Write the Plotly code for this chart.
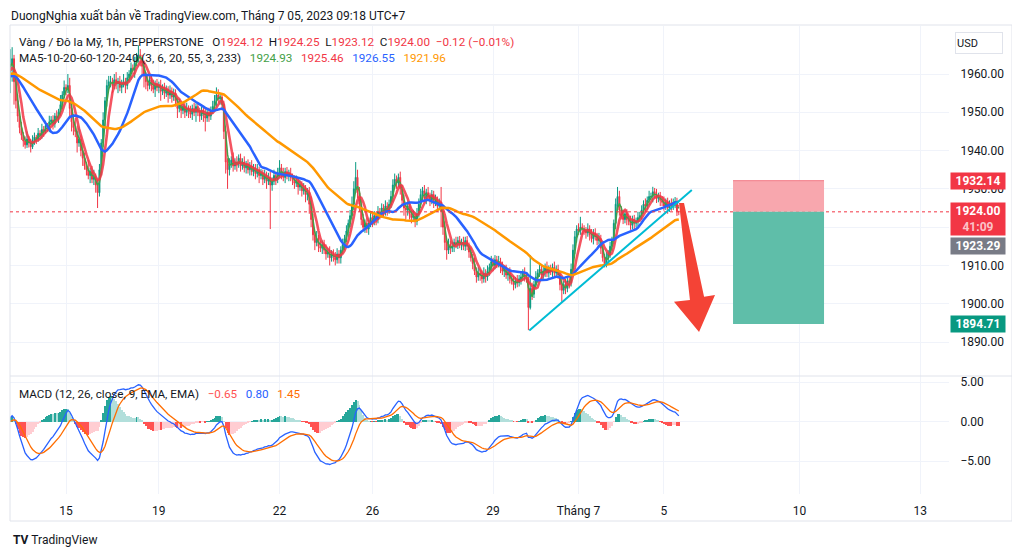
import plotly.graph_objects as go
import pandas as pd

# ---------------- data (1h bars, index 0 = 15 Jun 00:00 UTC+7) ----------------
warmup_closes = [1958.5, 1959.0, 1958.0, 1959.5, 1960.0, 1959.0, 1960.5, 1961.0, 1960.0, 1961.5,
                 1962.0, 1961.0, 1960.5, 1961.5, 1962.5, 1961.5, 1960.0, 1959.5, 1960.5, 1961.0,
                 1962.0, 1961.0, 1960.0, 1959.0, 1958.5, 1959.5, 1960.5, 1961.5, 1962.5, 1963.0,
                 1962.0, 1961.0, 1960.5, 1961.5, 1960.0, 1959.0, 1958.0, 1958.5, 1959.5, 1960.0,
                 1959.0, 1958.5, 1959.0, 1958.0, 1958.5, 1959.5, 1958.5, 1959.0, 1958.0, 1957.5,
                 1958.5, 1959.0, 1958.0, 1958.5, 1959.5, 1960.0, 1959.5, 1960.5, 1961.0, 1962.0]
FIRST_IDX = -30

c01 = [1962.5, 1964.0, 1958.0, 1953.0, 1949.0, 1946.0, 1944.0, 1942.5, 1941.5, 1943.0, 1942.0, 1941.0,
       1942.5, 1943.5, 1943.0, 1944.5, 1944.0, 1945.5, 1945.0, 1946.5, 1946.0, 1947.5, 1948.0, 1947.0,
       1949.0, 1948.5, 1950.0, 1952.0, 1954.5, 1956.5, 1956.0, 1957.0, 1951.0, 1947.5]
u01 = [4.0, 3.0, 1.0, 2.5, 1.5, 1.0, 1.5, 0.8, 1.2, 2.0, 0.8, 1.0, 1.5, 1.2, 0.6, 1.4, 0.8, 1.5, 0.9, 1.3,
       0.7, 1.6, 1.0, 1.2, 0.8, 1.5, 0.9, 2.5, 1.0, 1.8, 0.8, 3.0, 2.0, 1.0]
d01 = [7.0, 4.5, 6.0, 2.0, 1.5, 1.5, 1.2, 1.5, 1.0, 0.8, 1.2, 1.5, 0.6, 1.0, 1.3, 0.7, 1.2, 0.9, 1.4, 0.6,
       1.0, 1.2, 0.8, 1.5, 1.0, 0.7, 1.3, 0.9, 1.2, 0.8, 1.5, 1.0, 2.0, 2.5]
c02 = [1946.0, 1945.0, 1942.0, 1943.0, 1940.0, 1938.0, 1936.0, 1935.0, 1933.5, 1934.5, 1932.5, 1933.0, 1931.0, 1929.0,
       1935.0, 1942.0, 1948.0, 1953.0, 1957.0, 1958.0]
u02 = [2.0, 2.5, 1.5, 3.0, 1.0, 2.0, 1.5, 1.0, 2.5, 1.0, 1.5, 2.0, 1.0, 1.5, 1.5, 1.0, 2.0, 1.0, 1.5, 1.5]
d02 = [2.0, 1.5, 2.5, 1.0, 1.5, 2.0, 1.0, 1.5, 1.0, 2.0, 1.0, 1.5, 2.0, 4.0, 1.0, 1.5, 1.0, 2.0, 1.5, 1.0]
c03 = [1958.0, 1957.0, 1958.5, 1957.5, 1958.0, 1956.5, 1957.5, 1958.0, 1957.0, 1959.0,
       1960.0, 1961.5, 1961.0, 1963.0, 1964.5, 1965.0, 1964.0, 1962.0, 1959.5, 1958.0, 1957.0, 1958.5]
u03 = [1.5, 1.0, 1.5, 2.0, 1.0, 1.5, 1.0, 2.0, 1.0, 1.5, 1.0, 1.5, 1.0, 1.5, 1.0, 2.5, 1.5, 1.0, 1.5, 1.0, 1.5, 1.0]
d03 = [1.5, 2.0, 1.0, 1.5, 2.5, 1.0, 1.5, 1.0, 2.0, 1.0, 1.0, 1.5, 1.0, 2.0, 1.0, 1.5, 2.0, 2.5, 3.0, 2.0, 1.5, 1.0]
c04 = [1957.0, 1956.0, 1957.5, 1956.5, 1957.0, 1955.5, 1956.5, 1955.0, 1956.0, 1954.5, 1955.5, 1954.0, 1955.0,
       1953.0, 1951.0, 1952.0, 1950.5, 1951.5]
u04 = [1.0, 1.5, 0.8, 1.2, 1.0, 1.5, 0.8, 1.2, 1.0, 0.8, 1.5, 1.0, 1.2, 1.0, 0.8, 1.5, 1.0, 1.2]
d04 = [1.5, 1.0, 2.0, 1.0, 1.5, 2.5, 1.0, 1.5, 1.0, 2.0, 1.0, 1.5, 1.0, 1.5, 2.5, 1.0, 2.0, 1.0]
c05 = [1950.0, 1951.0, 1950.5, 1949.5, 1951.0, 1950.0, 1951.5, 1950.0, 1949.0, 1950.5, 1949.5, 1948.5, 1950.0,
       1949.0, 1950.5, 1951.5, 1953.0, 1954.5, 1953.5, 1954.0, 1952.0, 1945.0]
u05 = [1.0, 1.5, 0.8, 1.2, 1.0, 1.5, 0.8, 1.0, 1.2, 1.0, 0.8, 1.5, 1.0, 1.2, 1.0, 1.5, 1.5, 2.0, 1.5, 1.0, 1.0, 1.0]
d05 = [1.5, 1.0, 2.0, 1.0, 1.5, 1.0, 2.5, 1.0, 1.5, 1.0, 2.0, 3.5, 1.0, 1.5, 1.0, 1.0, 1.0, 1.5, 1.0, 1.5, 1.5, 2.0]
c06 = [1937.0, 1935.0, 1936.5, 1937.5, 1936.0, 1937.0, 1936.5, 1938.0, 1936.0, 1937.0, 1935.5, 1936.5, 1935.0,
       1936.0, 1934.5, 1935.5, 1934.0, 1935.0, 1933.5, 1934.0, 1932.5, 1933.5, 1932.0, 1933.0, 1931.0]
u06 = [1.5, 1.0, 1.5, 1.0, 2.0, 1.0, 1.5, 1.0, 1.2, 1.0, 1.5, 0.8, 1.2, 1.0, 1.5, 1.0,
       1.0, 1.5, 0.8, 1.2, 1.0, 1.5, 1.0, 1.2, 1.5]
d06 = [3.0, 5.0, 1.5, 1.0, 1.5, 1.0, 2.0, 1.0, 1.5, 1.0, 1.2, 1.5, 1.0, 1.5, 1.0, 1.2,
       1.5, 1.0, 2.0, 1.0, 1.5, 1.0, 2.0, 1.0, 11.5]
c07 = [1932.0, 1933.5, 1932.5, 1934.0, 1935.5, 1934.0, 1933.0, 1934.5, 1933.5, 1934.0, 1933.0, 1932.5,
       1931.5, 1932.0, 1930.5, 1931.0, 1929.5, 1930.0, 1928.5, 1929.0]
u07 = [1.0, 1.5, 1.0, 1.5, 2.0, 1.0, 1.5, 1.0, 1.2, 1.0, 1.5, 1.0, 1.0, 1.5, 1.0, 1.2, 1.0, 1.5, 1.0, 1.2]
d07 = [1.5, 1.0, 1.5, 1.0, 1.0, 1.5, 1.0, 1.5, 1.0, 1.5, 1.0, 1.5, 1.5, 1.0, 2.0, 1.0, 1.5, 1.0, 2.0, 1.5]
c08 = [1926.0, 1922.0, 1918.0, 1916.0, 1917.0, 1915.0, 1914.5, 1915.5, 1914.0, 1913.0, 1913.5, 1912.0, 1913.0,
       1912.5, 1911.5, 1913.0, 1912.0,
       1914.0, 1915.5, 1917.0, 1919.0, 1921.0, 1923.0, 1926.0, 1930.0, 1933.0, 1929.0, 1926.0, 1922.0, 1920.0,
       1921.0, 1919.5]
u08 = [1.5, 2.0, 1.5, 1.0, 2.0, 1.0, 1.5, 1.0, 1.2, 1.5, 1.0, 1.5, 1.0, 1.2, 1.0, 1.5, 1.0,
       1.0, 1.5, 1.0, 1.5, 1.0, 1.5, 2.0, 2.0, 4.0, 2.0, 1.5, 1.0, 1.5, 1.0, 1.5]
d08 = [2.5, 2.0, 1.5, 2.0, 1.0, 1.5, 1.0, 1.5, 1.0, 1.5, 1.0, 2.0, 1.0, 1.5, 1.5, 1.0, 1.5,
       1.5, 1.0, 1.5, 1.0, 1.5, 1.0, 1.0, 1.5, 1.0, 1.5, 2.0, 1.5, 1.0, 1.5, 1.0]
c09 = [1921.0, 1922.5, 1921.5, 1923.0, 1922.0, 1924.0, 1923.5, 1925.0, 1924.0, 1925.5, 1924.5, 1926.0,
       1928.0, 1931.0, 1932.5, 1931.5, 1933.0, 1930.0, 1927.0, 1925.0, 1924.5, 1925.5, 1923.5]
u09 = [1.0, 1.5, 1.0, 1.2, 1.0, 1.5, 1.0, 1.2, 1.0, 1.5, 1.0, 1.2,
       1.5, 1.5, 1.5, 1.0, 1.0, 1.5, 1.0, 1.5, 1.0, 1.2, 1.0]
d09 = [1.5, 1.0, 1.5, 1.0, 1.5, 1.0, 1.5, 1.0, 1.2, 1.0, 1.5, 1.0,
       1.0, 1.5, 1.0, 1.5, 1.0, 1.5, 1.0, 2.0, 2.5, 1.5, 1.5]
c10 = [1922.5, 1923.0, 1921.5, 1923.5, 1926.0, 1928.5, 1929.5, 1927.5, 1929.0, 1928.0, 1927.0, 1928.5, 1926.5,
       1927.0, 1925.5, 1926.5, 1924.0,
       1920.0, 1916.0, 1914.0, 1915.5, 1914.5, 1915.0, 1916.0, 1915.5, 1916.5, 1915.5, 1916.0, 1915.0, 1916.5, 1915.0]
u10 = [1.0, 1.5, 1.0, 1.5, 1.5, 1.5, 1.0, 1.5, 1.0, 1.5, 1.0, 1.2, 1.0, 1.5, 1.0, 1.0, 4.0,
       1.5, 1.5, 1.0, 1.5, 1.0, 1.2, 1.0, 1.5, 1.0, 1.2, 1.0, 1.5, 1.0, 1.2]
d10 = [1.5, 1.0, 1.5, 1.0, 1.0, 1.0, 1.5, 1.0, 1.5, 1.0, 1.5, 1.0, 1.5, 1.0, 1.5, 1.0, 4.0,
       2.0, 2.0, 2.5, 1.0, 1.5, 1.0, 1.5, 1.0, 1.2, 1.0, 1.5, 1.0, 1.2, 1.0]
c11 = [1913.5, 1912.0, 1910.5, 1908.5, 1907.0, 1908.0, 1907.5, 1906.5, 1908.0, 1907.0, 1908.5, 1909.5, 1911.0,
       1910.0, 1911.5, 1910.5, 1911.0,
       1909.5, 1908.5, 1909.0, 1907.5, 1908.0, 1906.5, 1906.0, 1905.0, 1906.0, 1905.5, 1906.5, 1907.0, 1908.0,
       1907.0, 1906.5]
u11 = [1.0, 1.2, 1.0, 1.5, 1.0, 1.5, 1.0, 1.2, 1.5, 1.0, 1.5, 1.0, 1.5, 1.0, 1.2, 1.0, 1.5,
       1.0, 1.5, 1.0, 1.2, 1.0, 1.5, 1.0, 1.2, 1.0, 1.5, 1.0, 1.2, 1.0, 1.5, 1.0]
d11 = [1.5, 1.0, 1.5, 1.0, 1.5, 1.0, 1.5, 1.2, 1.0, 1.5, 1.0, 1.2, 1.0, 1.5, 1.0, 1.2, 1.0,
       1.5, 1.0, 1.5, 1.0, 1.5, 1.2, 1.0, 1.5, 1.0, 1.2, 1.0, 1.5, 1.0, 1.2, 1.0]
c12 = [1899.0, 1904.0, 1902.5, 1905.0, 1907.0,
       1908.0, 1909.0, 1907.5, 1908.5, 1909.5, 1908.0, 1909.0, 1908.5, 1909.5, 1908.0, 1909.0, 1907.5,
       1905.0, 1903.5, 1905.0, 1904.0, 1906.0, 1905.5, 1909.0, 1914.0, 1917.5, 1919.5, 1919.0, 1920.0,
       1919.5, 1919.0]
u12 = [0.5, 8.7, 1.5, 1.0, 1.5,
       1.0, 1.5, 1.0, 1.2, 1.0, 1.5, 1.0, 1.2, 1.0, 1.5, 1.0, 1.2,
       1.0, 1.5, 1.0, 1.5, 1.0, 1.5, 1.5, 1.5, 1.5, 1.0, 1.5, 2.7, 1.0, 1.0]
d12 = [5.9, 0.5, 1.5, 1.0, 1.0,
       1.5, 1.0, 1.5, 1.0, 1.5, 1.0, 1.2, 1.0, 1.5, 1.0, 1.2, 1.0,
       1.5, 3.0, 1.0, 1.5, 1.0, 1.5, 1.0, 1.5, 1.0, 1.5, 1.0, 1.0, 1.5, 1.0]
c13 = [1918.5, 1919.5, 1918.0, 1917.0, 1918.5, 1917.5, 1916.5, 1917.0, 1914.5, 1912.0, 1910.5, 1912.0, 1913.0,
       1915.0, 1916.5,
       1921.0, 1926.0, 1928.0, 1924.5, 1923.0, 1922.0, 1923.5, 1922.0, 1921.5, 1920.5, 1922.0, 1921.0, 1921.5,
       1922.5, 1923.0, 1924.5]
u13 = [1.0, 1.5, 1.0, 1.5, 1.0, 1.2, 1.0, 1.5, 1.0, 1.5, 1.0, 1.5, 1.0, 1.2, 1.0,
       1.0, 1.5, 2.5, 1.5, 1.0, 1.5, 1.0, 1.2, 1.0, 1.5, 1.0, 1.2, 1.0, 1.5, 1.0, 1.2]
d13 = [1.5, 1.0, 1.5, 1.0, 1.5, 1.0, 1.2, 1.0, 1.5, 1.0, 1.0, 1.0, 1.5, 1.0, 1.2,
       1.0, 1.5, 1.0, 1.5, 1.0, 1.2, 1.0, 1.5, 1.0, 1.2, 1.0, 1.5, 1.0, 1.2, 1.0, 1.0]
c14 = [1926.0, 1925.5, 1927.0, 1928.0, 1928.0, 1929.24, 1928.5, 1927.5, 1928.0, 1927.0, 1926.5, 1925.5,
       1926.5, 1925.0, 1926.0, 1925.5, 1926.47, 1926.67, 1924.12, 1924.00]
u14 = [1.0, 1.5, 1.0, 1.5, 1.0, 1.3, 1.0, 1.5, 1.0, 1.2, 1.0, 1.5, 1.0, 1.2, 1.0, 1.5, 1.0, 1.2, 1.0, 0.13]
d14 = [1.0, 1.5, 1.0, 1.2, 1.0, 1.5, 1.0, 1.2, 1.0, 1.5, 1.0, 1.2, 1.0, 1.5, 1.0, 1.2, 1.0, 1.5, 1.2, 0.88]

closes = c01 + c02 + c03 + c04 + c05 + c06 + c07 + c08 + c09 + c10 + c11 + c12 + c13 + c14
wick_up = u01 + u02 + u03 + u04 + u05 + u06 + u07 + u08 + u09 + u10 + u11 + u12 + u13 + u14
wick_dn = d01 + d02 + d03 + d04 + d05 + d06 + d07 + d08 + d09 + d10 + d11 + d12 + d13 + d14

# axis labels
time_tick_idx = [0, 50, 115, 165, 230, 276, 322, 395, 460]
time_tick_txt = ["15", "19", "22", "26", "29", "Tháng 7", "5", "10", "13"]
price_ticks = [1890, 1900, 1910, 1920, 1930, 1940, 1950, 1960]
macd_ticks = [5, 0, -5]
macd_tick_txt = ["5.00", "0.00", "\u22125.00"]

# drawings
last_price = 1924.00
pos_x = [359.2, 408.2]
pos_stop, pos_entry, pos_target = 1932.14, 1924.00, 1894.71
trend_pts = [(249.5, 1893.0), (337.0, 1929.7)]
arrow_pts = [(330.1, 1926.3), (332.8, 1926.3), (343.6, 1901.8), (349.5, 1902.3),
             (340.9, 1892.6), (327.4, 1900.5), (336.0, 1901.0)]

# ---------------- derived ----------------
n = min(len(closes), len(wick_up), len(wick_dn))
closes, wick_up, wick_dn = closes[:n], wick_up[:n], wick_dn[:n]
xs = list(range(FIRST_IDX, FIRST_IDX + n))
opens = [warmup_closes[-1]] + closes[:-1]
highs = [max(o, c) + u for o, c, u in zip(opens, closes, wick_up)]
lows = [min(o, c) - d for o, c, d in zip(opens, closes, wick_dn)]

full = pd.Series(warmup_closes + closes)
nw = len(warmup_closes)
ma = {p: full.rolling(p).mean().iloc[nw:].tolist() for p in (3, 6, 20, 55)}
ema12 = full.ewm(span=12, adjust=False).mean()
ema26 = full.ewm(span=26, adjust=False).mean()
macd = ema12 - ema26
sig = macd.ewm(span=9, adjust=False).mean()
hist = (macd - sig)
macd_v, sig_v, hist_v = macd.iloc[nw:].tolist(), sig.iloc[nw:].tolist(), hist.iloc[nw:].tolist()
hist_prev = hist.iloc[nw - 1:-1].tolist()
hcol = []
for h, p in zip(hist_v, hist_prev):
    if h >= 0:
        hcol.append("#26A69A" if h > p else "#B2DFDB")
    else:
        hcol.append("#FF5252" if h < p else "#FFCDD2")

# ---------------- figure ----------------
# pixel positions below are in window pixels; the page body adds an 8px margin
OFF = 8
WIN_W, WIN_H = 1020, 557
L, R, T, B = 10, 949, 26, 494
SEP = 376


def xp(px):
    return (px - L) / (R - L)


def yp(py):
    return (B - py) / (B - T)


px_per_unit = 3.829
price_top = 1960 + (74 - T) / px_per_unit
price_bot = 1960 - (SEP - 74) / px_per_unit
macd_ppu = 7.9
macd_zero_px = 421.5
macd_top = (macd_zero_px - SEP) / macd_ppu
macd_bot = -(B - macd_zero_px) / macd_ppu
split = yp(SEP)

GREEN, RED = "#089981", "#F23645"
TXT = "#131722"
GRID = "#F0F3FA"
FONT = "Roboto"
FS = 11.7

fig = go.Figure()
fig.add_trace(go.Candlestick(
    x=xs, open=opens, high=highs, low=lows, close=closes, xaxis="x", yaxis="y",
    increasing=dict(line=dict(color=GREEN, width=1), fillcolor=GREEN),
    decreasing=dict(line=dict(color=RED, width=1), fillcolor=RED),
    whiskerwidth=0, hoverinfo="skip"))
fig.add_trace(go.Scatter(x=xs, y=ma[3], mode="lines", line=dict(color="#43A047", width=1.5), yaxis="y"))
fig.add_trace(go.Scatter(x=xs, y=ma[6], mode="lines", line=dict(color="rgba(242,54,69,0.85)", width=2.6), yaxis="y"))
fig.add_trace(go.Scatter(x=xs, y=ma[20], mode="lines", line=dict(color="#2962FF", width=2.5), yaxis="y"))
fig.add_trace(go.Scatter(x=xs, y=ma[55], mode="lines", line=dict(color="#FF9800", width=2.5), yaxis="y"))

fig.add_trace(go.Bar(x=xs, y=hist_v, marker=dict(color=hcol, line=dict(width=0)), width=0.55, yaxis="y2"))
fig.add_trace(go.Scatter(x=xs, y=macd_v, mode="lines", line=dict(color="#2962FF", width=1.3), yaxis="y2"))
fig.add_trace(go.Scatter(x=xs, y=sig_v, mode="lines", line=dict(color="#FF6D00", width=1.3), yaxis="y2"))

shapes = [
    dict(type="rect", xref="paper", yref="paper", x0=xp(10), x1=xp(1012), y0=yp(521), y1=yp(25),
         line=dict(color="#E0E3EB", width=1), fillcolor="rgba(0,0,0,0)", layer="above"),
    dict(type="line", xref="paper", yref="paper", x0=xp(10), x1=xp(1012), y0=split, y1=split,
         line=dict(color="#E0E3EB", width=1)),
    dict(type="line", xref="paper", yref="y", x0=0, x1=1, y0=last_price, y1=last_price,
         line=dict(color=RED, width=1, dash="dot"), layer="above"),
    dict(type="line", xref="paper", yref="y2", x0=0, x1=1, y0=0, y1=0,
         line=dict(color="#9598A1", width=1, dash="dash"), layer="below"),
    dict(type="rect", xref="x", yref="y", x0=pos_x[0], x1=pos_x[1], y0=pos_entry, y1=pos_stop,
         fillcolor="#F8A7AE", line=dict(width=0), layer="above"),
    dict(type="rect", xref="x", yref="y", x0=pos_x[0], x1=pos_x[1], y0=pos_target, y1=pos_entry,
         fillcolor="#5FBEA9", line=dict(width=0), layer="above"),
    dict(type="line", xref="x", yref="y", x0=pos_x[0], x1=pos_x[1], y0=pos_stop, y1=pos_stop,
         line=dict(color="#F27A85", width=1), layer="above"),
    dict(type="line", xref="x", yref="y", x0=trend_pts[0][0], x1=trend_pts[1][0],
         y0=trend_pts[0][1], y1=trend_pts[1][1], line=dict(color="#00BCD4", width=2), layer="above"),
    dict(type="path", xref="x", yref="y",
         path="M " + " L ".join(f"{a},{b}" for a, b in arrow_pts) + " Z",
         fillcolor="#F44336", line=dict(width=0), layer="above"),
]

NB = "\u00a0"


def span(t, c):
    return f"<span style='color:{c}'>{t}</span>"


G2 = NB * 2
G3 = NB * 3
legend1 = ("Vàng / Đô la Mỹ, 1h, PEPPERSTONE" + G3 + "O" + span("1924.12", RED) + G2 + "H" + span("1924.25", RED)
           + G2 + "L" + span("1923.12", RED) + G2 + "C" + span("1924.00", RED) + G2
           + span("\u22120.12 (\u22120.01%)", RED))
legend2 = ("MA5-10-20-60-120-240 (3, 6, 20, 55, 3, 233)" + G3 + span("1924.93", "#43A047") + G3
           + span("1925.46", RED) + G3 + span("1926.55", "#2962FF") + G3 + span("1921.96", "#FF9800"))
legend3 = ("MACD (12, 26, close, 9, EMA, EMA)" + G3 + span("\u22120.65", "#FF5252") + G3
           + span("0.80", "#2962FF") + G3 + span("1.45", "#FF6D00"))

ann = [
    dict(text="DuongNghia xuất bản về TradingView.com, Tháng 7 05, 2023 09:18 UTC+7", x=xp(10), y=yp(OFF),
         yanchor="top", borderpad=0, font=dict(size=12, color=TXT)),
    dict(text=legend1, x=xp(17), y=yp(42), font=dict(size=FS, color=TXT)),
    dict(text=legend2, x=xp(17), y=yp(58), font=dict(size=FS, color=TXT)),
    dict(text=legend3, x=xp(17), y=yp(394), font=dict(size=FS, color=TXT)),
    dict(text="<b>TV</b>" + NB + "TradingView", x=xp(11), y=yp(540), font=dict(size=12, color=TXT)),
]
for a in ann:
    a.setdefault("yanchor", "middle")
    a.update(xref="paper", yref="paper", xanchor="left", showarrow=False)

boxes = [
    ("1932.14", pos_stop, RED, 0),
    ("1924.00<br>" + span("41:09", "#FBC3C8"), last_price, RED, -7),
    ("1923.29", 1923.29, "#787B86", -31),
    ("1894.71", pos_target, GREEN, 0),
]
for t, yv, col, ysh in boxes:
    ann.append(dict(text="<b>" + t + "</b>", xref="paper", yref="y", x=1, y=yv, xanchor="left", yanchor="middle",
                    xshift=1, yshift=ysh, showarrow=False, bgcolor=col, width=52, align="center",
                    font=dict(size=12, color="white"), borderpad=1))
ann.append(dict(text="USD", xref="paper", yref="paper", x=xp(955), y=yp(43), xanchor="left", yanchor="middle",
                showarrow=False, bgcolor="white", bordercolor="#E0E3EB", borderwidth=1, width=44, height=18,
                align="left", font=dict(size=11, color=TXT)))

fig.update_layout(
    width=WIN_W - OFF, height=WIN_H - OFF,
    margin=dict(l=L - OFF, r=WIN_W - R, t=T - OFF, b=WIN_H - B),
    paper_bgcolor="white", plot_bgcolor="white", showlegend=False,
    font=dict(family=FONT, size=12, color=TXT), bargap=0,
    xaxis=dict(range=[(L - 66) / 1.857, (R - 66) / 1.857], anchor="y2", domain=[0, 1],
               tickvals=time_tick_idx, ticktext=time_tick_txt, showgrid=True, gridcolor=GRID,
               ticks="outside", ticklen=6, tickcolor="rgba(0,0,0,0)", zeroline=False,
               rangeslider=dict(visible=False), showline=False, tickfont=dict(size=12, color=TXT)),
    yaxis=dict(domain=[split, 1], range=[price_bot, price_top], side="right", tickvals=price_ticks,
               tickformat=".2f", showgrid=True, gridcolor=GRID, zeroline=False, ticks="outside", ticklen=8,
               tickcolor="rgba(0,0,0,0)", tickfont=dict(size=12, color=TXT), anchor="x"),
    yaxis2=dict(domain=[0, split], range=[macd_bot, macd_top], side="right", tickvals=macd_ticks,
                ticktext=macd_tick_txt, showgrid=True, gridcolor=GRID, zeroline=False, ticks="outside",
                ticklen=8, tickcolor="rgba(0,0,0,0)", tickfont=dict(size=12, color=TXT), anchor="x"),
    shapes=shapes, annotations=ann,
)

fig.write_html("out.html")
